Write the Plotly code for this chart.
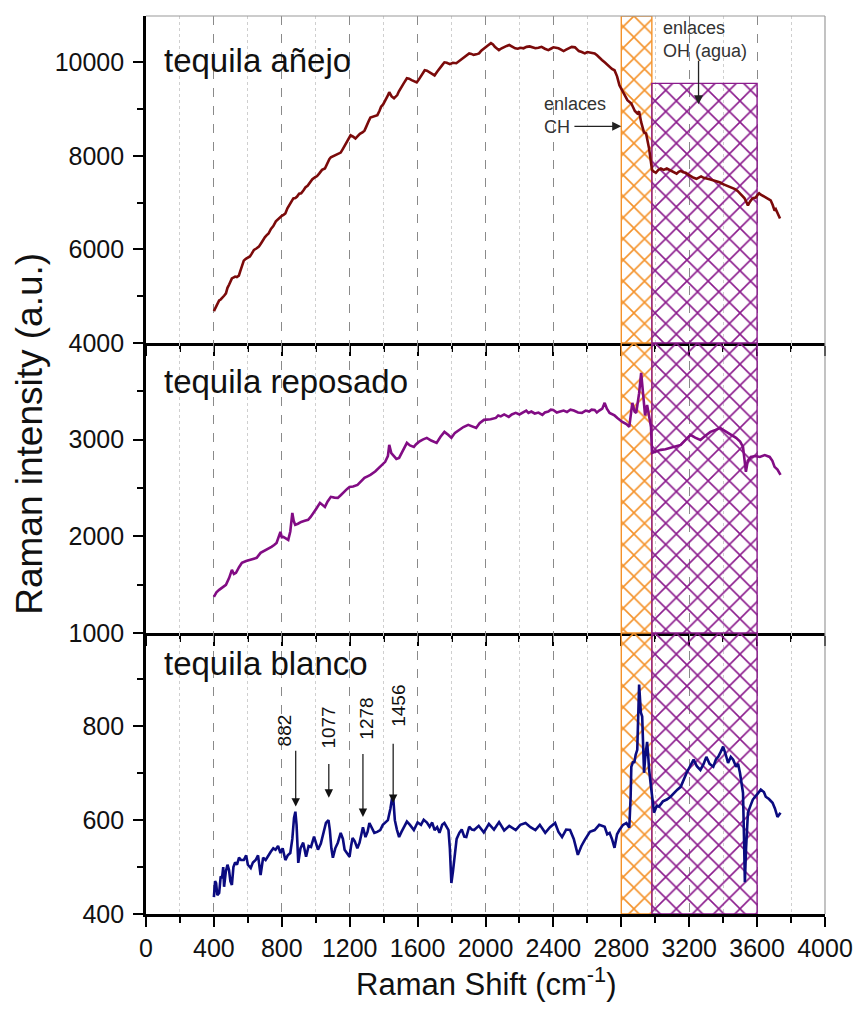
import plotly.graph_objects as go
from plotly.subplots import make_subplots

# ---- Raman spectra (shift in cm^-1, intensity in a.u.) ----
anejo_shift = [400, 410, 420, 431, 440, 450, 460, 471, 480, 490, 498, 506, 515, 525, 535, 547, 555, 562,
               570, 576, 588, 600, 612, 623, 636, 650, 665, 681, 690, 700, 710, 722, 736, 750, 765, 780,
               790, 800, 810, 821, 833, 845, 856, 868, 880, 890, 902, 914, 927, 940, 952, 965, 980, 995,
               1008, 1020, 1037, 1054, 1062, 1070, 1080, 1089, 1100, 1115, 1130, 1147, 1160, 1175, 1190,
               1205, 1220, 1234, 1247, 1260, 1275, 1287, 1297, 1305, 1314, 1322, 1333, 1345, 1355, 1363,
               1375, 1385, 1397, 1410, 1422, 1433, 1447, 1461, 1470, 1480, 1490, 1500, 1518, 1537, 1550,
               1565, 1580, 1595, 1607, 1620, 1632, 1642, 1655, 1670, 1685, 1700, 1715, 1730, 1745, 1758,
               1772, 1790, 1808, 1828, 1845, 1860, 1882, 1904, 1917, 1930, 1946, 1962, 1975, 1990, 2010,
               2032, 2044, 2055, 2067, 2079, 2095, 2110, 2125, 2140, 2150, 2160, 2175, 2190, 2207, 2224,
               2242, 2260, 2277, 2294, 2312, 2330, 2350, 2370, 2385, 2400, 2415, 2430, 2445, 2460, 2475,
               2490, 2508, 2527, 2538, 2550, 2567, 2585, 2600, 2615, 2630, 2643, 2657, 2670, 2686, 2702,
               2716, 2730, 2745, 2760, 2775, 2789, 2810, 2836, 2859, 2880, 2894, 2905, 2917, 2934, 2946,
               2964, 2981, 2992, 3004, 3018, 3033, 3050, 3068, 3084, 3100, 3113, 3126, 3138, 3150, 3165,
               3179, 3195, 3210, 3226, 3243, 3256, 3270, 3285, 3301, 3320, 3340, 3360, 3383, 3396, 3410,
               3425, 3441, 3455, 3470, 3485, 3499, 3512, 3525, 3536, 3546, 3558, 3570, 3580, 3592, 3602,
               3612, 3622, 3633, 3647, 3660, 3670, 3680, 3692, 3703, 3710, 3718, 3726, 3735]
anejo_int = [4680, 4760, 4850, 4910, 4930, 4960, 5010, 5060, 5180, 5250, 5330, 5380, 5400, 5420, 5410,
             5440, 5530, 5600, 5700, 5760, 5800, 5830, 5850, 5910, 5990, 6020, 6060, 6150, 6220, 6260,
             6300, 6340, 6440, 6500, 6600, 6660, 6700, 6720, 6740, 6770, 6880, 6950, 7040, 7090, 7100,
             7130, 7190, 7200, 7260, 7330, 7360, 7420, 7500, 7540, 7570, 7620, 7700, 7730, 7800, 7860,
             7930, 7970, 7990, 8010, 8040, 8070, 8150, 8250, 8340, 8440, 8410, 8370, 8420, 8470, 8500,
             8540, 8620, 8700, 8760, 8820, 8830, 8840, 8860, 8870, 8960, 9050, 9100, 9180, 9270, 9360,
             9270, 9230, 9260, 9300, 9380, 9450, 9550, 9660, 9650, 9620, 9600, 9570, 9630, 9700, 9780,
             9830, 9820, 9790, 9750, 9720, 9800, 9880, 9940, 10000, 9990, 9960, 9990, 9980, 10030, 10080,
             10130, 10190, 10180, 10160, 10170, 10190, 10250, 10300, 10350, 10410, 10380, 10330, 10300,
             10260, 10300, 10330, 10350, 10370, 10350, 10340, 10300, 10290, 10310, 10300, 10330, 10340,
             10320, 10300, 10310, 10330, 10290, 10260, 10290, 10320, 10310, 10300, 10270, 10240, 10270,
             10300, 10330, 10320, 10280, 10240, 10220, 10190, 10220, 10210, 10200, 10190, 10150, 10100,
             10050, 10000, 9950, 9900, 9860, 9830, 9700, 9510, 9360, 9190, 9120, 8960, 8910, 8950, 8720,
             8500, 8480, 8150, 7700, 7660, 7640, 7700, 7730, 7700, 7730, 7700, 7660, 7640, 7620, 7660,
             7680, 7650, 7640, 7600, 7560, 7530, 7510, 7540, 7560, 7530, 7510, 7500, 7480, 7460, 7430,
             7400, 7380, 7350, 7330, 7310, 7290, 7250, 7200, 7150, 7100, 7020, 6940, 7020, 7080, 7100,
             7110, 7160, 7200, 7170, 7150, 7120, 7100, 7080, 7050, 6950, 6830, 6860, 6800, 6730, 6660]

reposado_shift = [400, 415, 431, 450, 471, 490, 506, 518, 530, 548, 565, 590, 617, 635, 652, 675, 700, 720,
                  739, 755, 769, 792, 800, 809, 825, 838, 850, 862, 870, 879, 895, 914, 935, 955, 970, 984,
                  1005, 1025, 1040, 1054, 1070, 1089, 1110, 1130, 1150, 1170, 1185, 1199, 1220, 1246, 1265,
                  1287, 1305, 1322, 1350, 1374, 1390, 1409, 1425, 1433, 1445, 1461, 1475, 1491, 1515, 1537,
                  1555, 1578, 1590, 1607, 1630, 1654, 1680, 1712, 1735, 1758, 1780, 1799, 1820, 1846, 1870,
                  1898, 1920, 1945, 1965, 1991, 2030, 2061, 2075, 2090, 2110, 2137, 2155, 2178, 2200, 2224,
                  2240, 2253, 2270, 2290, 2312, 2335, 2350, 2370, 2385, 2399, 2420, 2440, 2460, 2480, 2500,
                  2520, 2545, 2568, 2590, 2610, 2625, 2643, 2656, 2670, 2688, 2702, 2715, 2731, 2760, 2777,
                  2806, 2830, 2847, 2865, 2878, 2888, 2905, 2917, 2929, 2940, 2952, 2965, 2975, 2981, 3010,
                  3033, 3060, 3092, 3120, 3150, 3180, 3208, 3235, 3266, 3295, 3325, 3355, 3383, 3400, 3418,
                  3450, 3476, 3500, 3517, 3534, 3545, 3563, 3590, 3616, 3645, 3674, 3690, 3703, 3720, 3738]
reposado_int = [1374, 1420, 1446, 1470, 1498, 1570, 1653, 1610, 1622, 1680, 1725, 1745, 1756, 1770, 1777,
                1829, 1850, 1870, 1891, 1910, 1932, 2046, 1990, 1994, 1980, 1963, 2050, 2242, 2160, 2118,
                2130, 2149, 2160, 2170, 2200, 2242, 2290, 2346, 2320, 2304, 2360, 2408, 2400, 2397, 2430,
                2459, 2490, 2511, 2515, 2532, 2570, 2604, 2620, 2635, 2670, 2708, 2740, 2770, 2830, 2945,
                2860, 2821, 2800, 2811, 2900, 2966, 2940, 2925, 2950, 2976, 3000, 3018, 2990, 2966, 3030,
                3080, 3050, 3018, 3070, 3100, 3130, 3152, 3140, 3121, 3170, 3204, 3210, 3224, 3250, 3240,
                3260, 3235, 3260, 3276, 3260, 3286, 3300, 3276, 3290, 3270, 3280, 3255, 3280, 3290, 3310,
                3307, 3280, 3290, 3300, 3286, 3310, 3300, 3280, 3276, 3300, 3290, 3310, 3307, 3280, 3300,
                3320, 3380, 3320, 3276, 3250, 3224, 3183, 3160, 3131, 3380, 3290, 3276, 3480, 3690, 3410,
                3250, 3359, 3220, 3131, 2863, 2880, 2894, 2900, 2914, 2930, 2945, 3000, 3049, 3020, 2997,
                3040, 3080, 3100, 3121, 3100, 3080, 3050, 3018, 2980, 2925, 2666, 2780, 2821, 2830, 2821,
                2840, 2821, 2780, 2718, 2690, 2635]

blanco_shift = [400, 407, 413, 420, 431, 440, 448, 455, 460, 470, 480, 489, 497, 506, 515, 525, 536, 548,
                560, 576, 590, 600, 617, 630, 646, 660, 675, 690, 705, 720, 734, 750, 763, 778, 792, 805,
                821, 835, 850, 862, 872, 880, 887, 897, 910, 926, 943, 958, 972, 990, 1013, 1030, 1048,
                1060, 1075, 1083, 1092, 1101, 1115, 1130, 1147, 1160, 1170, 1185, 1199, 1208, 1217, 1230,
                1245, 1258, 1270, 1278, 1293, 1305, 1316, 1330, 1345, 1362, 1380, 1395, 1409, 1425, 1440,
                1450, 1456, 1466, 1478, 1491, 1505, 1520, 1537, 1555, 1578, 1600, 1620, 1636, 1655, 1671,
                1686, 1700, 1715, 1729, 1745, 1758, 1770, 1782, 1790, 1799, 1808, 1817, 1830, 1846, 1860,
                1875, 1887, 1904, 1920, 1933, 1960, 1990, 2020, 2050, 2080, 2110, 2140, 2178, 2205, 2236,
                2265, 2294, 2320, 2352, 2380, 2410, 2430, 2451, 2475, 2498, 2520, 2544, 2565, 2585, 2615,
                2643, 2670, 2702, 2717, 2731, 2745, 2760, 2775, 2789, 2810, 2830, 2847, 2855, 2859, 2870,
                2876, 2885, 2894, 2905, 2915, 2923, 2930, 2934, 2940, 2946, 2952, 2958, 2964, 2975, 2985,
                2993, 3008, 3022, 3045, 3068, 3090, 3109, 3130, 3150, 3170, 3185, 3205, 3226, 3245, 3266,
                3285, 3301, 3320, 3342, 3358, 3371, 3385, 3400, 3415, 3429, 3445, 3459, 3476, 3488, 3499,
                3510, 3517, 3523, 3528, 3535, 3546, 3560, 3575, 3600, 3622, 3640, 3651, 3670, 3691, 3705,
                3720, 3738]
blanco_int = [436, 470, 466, 440, 445, 480, 477, 500, 458, 490, 505, 494, 470, 462, 500, 510, 505, 520,
              515, 515, 525, 505, 498, 510, 515, 525, 483, 520, 515, 525, 532, 540, 537, 545, 530, 540,
              515, 525, 530, 560, 605, 618, 590, 509, 540, 552, 522, 545, 543, 565, 537, 550, 580, 594,
              600, 579, 540, 520, 540, 552, 573, 560, 537, 530, 522, 545, 562, 555, 540, 552, 575, 585,
              564, 575, 594, 585, 573, 575, 579, 590, 594, 600, 625, 648, 650, 600, 580, 564, 575, 586,
              597, 590, 579, 595, 590, 601, 595, 586, 595, 579, 585, 573, 590, 594, 585, 579, 540, 466,
              490, 522, 560, 573, 580, 565, 564, 586, 580, 579, 588, 574, 592, 580, 596, 578, 588, 579,
              590, 594, 585, 579, 590, 573, 585, 594, 575, 564, 580, 579, 560, 526, 545, 558, 575, 579,
              590, 586, 570, 573, 560, 541, 570, 579, 590, 594, 584, 650, 714, 725, 722, 740, 750, 889,
              830, 821, 740, 701, 730, 744, 767, 740, 707, 671, 640, 616, 630, 629, 640, 644, 650, 658,
              665, 671, 690, 701, 715, 729, 715, 707, 720, 735, 720, 714, 730, 735, 745, 757, 740, 722,
              735, 729, 714, 720, 701, 680, 658, 560, 468, 540, 616, 630, 644, 655, 665, 660, 650, 645,
              637, 625, 607, 616]

# ---- bond regions (cm^-1) ----
ch_band = [2800, 2980]
oh_band = [2980, 3600]
oh_band_top_anejo = 9550

# ---- peak markers in the blanco spectrum ----
peak_pos = [882, 1077, 1278, 1456]
peak_labels = ["882", "1077", "1278", "1456"]
peak_arrow_tail = [751, 723, 744, 766]
peak_arrow_tip = [629, 648, 607, 637]
peak_label_x = [818, 1077, 1301, 1491]
peak_label_y = [791, 797, 816, 844]

panels = [
    ("tequila añejo", anejo_shift, anejo_int, "#7b0a0a", [4000, 10990], 2000, 1000),
    ("tequila reposado", reposado_shift, reposado_int, "#820c84", [1000, 3999], 1000, 500),
    ("tequila blanco", blanco_shift, blanco_int, "#0b0b80", [400, 999], 200, 100),
]

ORANGE = "#f4922a"
PURPLE = "#8a1a8c"
FONT = "Liberation Sans, Arial, sans-serif"

fig = make_subplots(rows=3, cols=1, shared_xaxes=False, vertical_spacing=0,
                    row_heights=[327, 290, 281])


def hatch_rect(x0, x1, y0, y1, color, row):
    fig.add_trace(go.Scatter(
        x=[x0, x1, x1, x0, x0], y=[y0, y0, y1, y1, y0],
        mode="lines", fill="toself", fillcolor="rgba(0,0,0,0)",
        fillpattern=dict(shape="x", size=15, solidity=0.2, fgcolor=color,
                         bgcolor="rgba(0,0,0,0)", fgopacity=1),
        line=dict(color=color, width=1.4), hoverinfo="skip", showlegend=False,
    ), row=row, col=1)


for i, (name, xs, ys, color, yrange, dt, mdt) in enumerate(panels):
    row = i + 1
    hatch_rect(ch_band[0], ch_band[1], yrange[0], yrange[1], ORANGE, row)
    top = oh_band_top_anejo if row == 1 else yrange[1]
    hatch_rect(oh_band[0], oh_band[1], yrange[0], top, PURPLE, row)
    fig.add_trace(go.Scatter(x=xs, y=ys, mode="lines", line=dict(color=color, width=2.6),
                             showlegend=False, hoverinfo="skip"), row=row, col=1)

    fig.update_xaxes(
        row=row, col=1, range=[0, 4000], tick0=0, dtick=400,
        ticks="outside", ticklen=10, tickwidth=2, tickcolor="black",
        showline=True, linecolor="black", linewidth=2.6,
        showgrid=True, gridcolor="#8a8a8a", griddash="dash", gridwidth=1,
        zeroline=False, showticklabels=(row == 3), tickformat="d",
        tickfont=dict(family=FONT, size=25, color="#111"),
        minor=dict(dtick=200, ticks="outside", ticklen=6, tickwidth=1.6, tickcolor="black",
                   showgrid=True, gridcolor="#cfcfcf", griddash="dot", gridwidth=1),
    )
    fig.update_yaxes(
        row=row, col=1, range=yrange, tick0=0, dtick=dt,
        ticks="outside", ticklen=10, tickwidth=2, tickcolor="black",
        showline=True, linecolor="black", linewidth=2.6,
        showgrid=False, zeroline=False, tickformat="d", ticklabelstandoff=4,
        tickfont=dict(family=FONT, size=25, color="#111"),
        minor=dict(dtick=mdt, ticks="outside", ticklen=6, tickwidth=1.6, tickcolor="black"),
    )
    yref = "y" if row == 1 else f"y{row}"
    fig.add_annotation(text=name, xref=f"x{'' if row == 1 else row} domain",
                       yref=f"{yref} domain", x=0.024, y=[0.865, 0.866, 0.89][i],
                       xanchor="left", yanchor="middle", showarrow=False,
                       font=dict(family=FONT, size=33, color="#111"))

# bond annotations in the añejo panel
fig.add_annotation(text="enlaces<br>CH", x=2335, y=8867, xref="x", yref="y",
                   xanchor="left", yanchor="middle", align="left", showarrow=False,
                   font=dict(family=FONT, size=18, color="#333"))
fig.add_annotation(text="", x=ch_band[0], y=8632, ax=2515, ay=8632, xref="x", yref="y",
                   axref="x", ayref="y", showarrow=True, arrowhead=2, arrowsize=1.4,
                   arrowwidth=1.3, arrowcolor="#222")
fig.add_annotation(text="enlaces<br>OH (agua)", x=3033, y=10480, xref="x", yref="y",
                   xanchor="left", yanchor="middle", align="left", showarrow=False,
                   font=dict(family=FONT, size=18, color="#333"))
fig.add_annotation(text="", x=3255, y=9102, ax=3255, ay=10064, xref="x", yref="y",
                   axref="x", ayref="y", showarrow=True, arrowhead=2, arrowsize=1.4,
                   arrowwidth=1.3, arrowcolor="#222")

# peak markers in the blanco panel
for pos, lab, tail, tip, lx, ly in zip(peak_pos, peak_labels, peak_arrow_tail, peak_arrow_tip,
                                       peak_label_x, peak_label_y):
    fig.add_annotation(text="", x=pos, y=tip, ax=pos, ay=tail, xref="x3", yref="y3",
                       axref="x3", ayref="y3", showarrow=True, arrowhead=2, arrowsize=1.4,
                       arrowwidth=1.2, arrowcolor="#111")
    fig.add_annotation(text=lab, x=lx, y=ly, xref="x3", yref="y3", textangle=-90,
                       xanchor="center", yanchor="middle", showarrow=False,
                       font=dict(family=FONT, size=19, color="#111"))

# axis titles
fig.add_annotation(text="Raman intensity (a.u.)", xref="paper", yref="paper", x=-0.172, y=0.535,
                   textangle=-90, xanchor="center", yanchor="middle", showarrow=False,
                   font=dict(family=FONT, size=37, color="#111"))
fig.add_annotation(text="Raman Shift (cm<sup>-1</sup>)", xref="paper", yref="paper", x=0.5, y=-0.076,
                   xanchor="center", yanchor="middle", showarrow=False,
                   font=dict(family=FONT, size=31, color="#111"))

# thin frame on the top and right edges
fig.add_shape(type="line", xref="paper", yref="paper", x0=0, x1=1, y0=1, y1=1,
              line=dict(color="#9a9a9a", width=1.2))
fig.add_shape(type="line", xref="paper", yref="paper", x0=1, x1=1, y0=0, y1=1,
              line=dict(color="#9a9a9a", width=1.2))

fig.update_layout(
    width=865, height=1017,
    margin=dict(l=146, r=32, t=16, b=103),
    paper_bgcolor="white", plot_bgcolor="white",
    showlegend=False,
    font=dict(family=FONT, color="#111"),
)

fig.write_html("out.html")
